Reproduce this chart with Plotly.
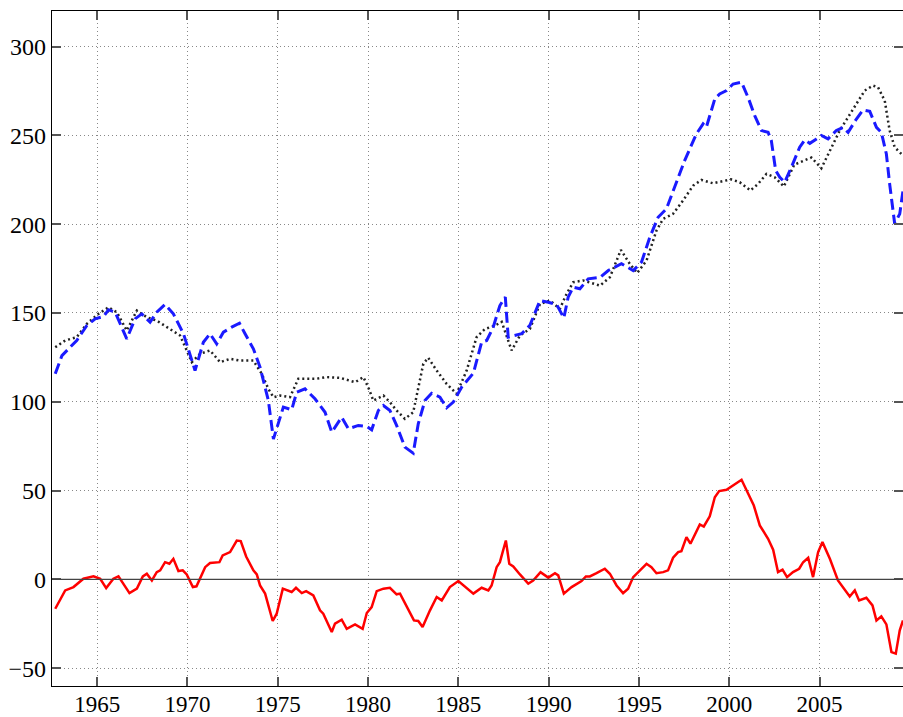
import plotly.graph_objects as go

# blue dashed series
blue_x = [1962.68, 1963.05, 1963.5, 1963.87, 1964.43, 1964.89, 1965.35, 1965.63, 1966.0, 1966.64,
          1967.1, 1967.47, 1967.93, 1968.3, 1968.76, 1969.22, 1969.78, 1970.15, 1970.42, 1970.88,
          1971.25, 1971.62, 1971.99, 1972.45, 1972.88, 1973.19, 1973.65, 1974.02, 1974.48, 1974.76,
          1975.03, 1975.31, 1975.77, 1976.05, 1976.51, 1977.06, 1977.62, 1977.99, 1978.54, 1978.91,
          1979.46, 1979.93, 1980.2, 1980.57, 1980.85, 1981.21, 1981.58, 1982.04, 1982.5, 1982.78,
          1983.15, 1983.52, 1983.98, 1984.35, 1984.72, 1985.18, 1985.83, 1986.29, 1986.57, 1986.93,
          1987.3, 1987.6, 1987.76, 1988.13, 1988.5, 1988.96, 1989.52, 1989.98, 1990.44, 1990.84,
          1991.08, 1991.36, 1991.73, 1992.19, 1992.84, 1993.3, 1994.03, 1994.68, 1995.14, 1995.6,
          1996.06, 1996.52, 1996.98, 1997.53, 1998.18, 1998.55, 1998.73, 1999.2, 1999.47, 1999.85,
          2000.21, 2000.68, 2001.04, 2001.41, 2001.78, 2002.15, 2002.33, 2002.57, 2002.8, 2003.07,
          2003.44, 2003.9, 2004.18, 2004.46, 2004.83, 2005.1, 2005.47, 2005.93, 2006.3, 2006.58,
          2007.04, 2007.41, 2007.78, 2008.15, 2008.42, 2008.7, 2008.88, 2009.16, 2009.44, 2009.62]
blue_y = [115.8, 126, 130.7, 134.5, 143, 146.7, 148, 151.8, 150.4, 135.4,
          146.7, 149.5, 144.8, 150.4, 154.8, 149.5, 138.3, 126, 117.6, 133.5,
          138.3, 132.6, 139.2, 142, 144.2, 138.3, 129.8, 119.5, 100.7, 79,
          87.6, 97, 95.5, 105.4, 107.3, 101.7, 94.1, 82.9, 91.3, 84.8,
          86.7, 86.1, 84.2, 95.1, 97.9, 95.1, 86.7, 74.5, 71.1, 87.6,
          100.7, 104.8, 102.6, 96.6, 99.8, 108.2, 116.1, 133.5, 134.5, 142,
          154.2, 159, 136.4, 137.3, 138.3, 143, 157, 156, 154.8, 147.2,
          158.9, 164.5, 163.6, 169.2, 170, 173.9, 177.7, 173.9, 178.6, 192.6,
          203.9, 208.6, 220.8, 235.8, 250.8, 256.4, 254.5, 270.5, 273.3, 275.2,
          278.9, 279.9, 271.4, 261.1, 252.7, 251.7, 247, 230.2, 226.4, 223.6,
          232.1, 243.3, 247.4, 245.5, 248, 249.9, 248, 252.7, 254.5, 251.7,
          259.2, 264.3, 263.5, 254.5, 251.7, 239.5, 222.7, 200.2, 205.8, 218.9]

# black dotted series
black_x = [1962.68, 1963.23, 1963.87, 1964.43, 1965.07, 1965.63, 1966.09, 1966.64, 1967.2, 1967.75,
           1968.3, 1969.04, 1969.59, 1969.96, 1970.24, 1970.7, 1971.25, 1971.81, 1972.36, 1972.91,
           1973.65, 1974.11, 1974.48, 1974.76, 1975.13, 1975.68, 1976.14, 1976.6, 1977.16, 1977.71,
           1978.45, 1979.28, 1979.74, 1980.01, 1980.29, 1980.85, 1981.21, 1981.58, 1982.04, 1982.5,
           1982.78, 1983.06, 1983.33, 1983.8, 1984.35, 1984.9, 1985.46, 1986.01, 1986.47, 1987.03,
           1987.4, 1987.95, 1988.41, 1988.96, 1989.52, 1990.07, 1990.62, 1990.99, 1991.36, 1991.91,
           1992.84, 1993.39, 1994.0, 1994.49, 1994.9, 1995.42, 1995.97, 1996.34, 1996.89, 1997.44,
           1998.0, 1998.46, 1999.1, 2000.1, 2000.58, 2001.17, 2001.6, 2002.06, 2002.52, 2003.02,
           2003.6, 2004.09, 2004.55, 2005.1, 2005.57, 2006.12, 2006.58, 2007.04, 2007.5, 2007.96,
           2008.24, 2008.61, 2008.88, 2009.16, 2009.53]
black_y = [130.7, 134.5, 136.4, 143.9, 149.5, 153.2, 150.4, 140.1, 151.4, 147.6,
           145.7, 141, 137.3, 128.9, 122.3, 127, 128.9, 122.3, 124.2, 123.2,
           123.2, 115.8, 107.3, 102.6, 103.5, 102.6, 113, 113, 113, 113.9,
           113.5, 111, 113.9, 108.2, 100.7, 103.5, 99.8, 95.1, 90.4, 94.1,
           107.3, 121.4, 124.8, 117.6, 110.1, 104.5, 117.6, 136.4, 141, 142.9,
           145, 128.9, 137.3, 141, 155.1, 157, 152.3, 160.7, 167.3, 168.3,
           165.4, 170.1, 185.5, 177.7, 172.5, 179.5, 196.4, 203, 205.8, 213.3,
           221.7, 224.9, 223, 225.2, 223.6, 219, 222.7, 228.3, 226.4, 221.2,
           233.5, 235.8, 237.5, 231.5, 241.4, 252.7, 260.2, 267.7, 275.2, 278,
           277, 269.5, 252.7, 243.3, 239.5]

# red solid series
red_x = [1962.68, 1963.23, 1963.69, 1964.24, 1964.8, 1965.17, 1965.5, 1965.9, 1966.18, 1966.79,
         1967.2, 1967.53, 1967.75, 1968.03, 1968.3, 1968.49, 1968.76, 1969.0, 1969.22, 1969.5,
         1969.74, 1969.96, 1970.3, 1970.5, 1970.98, 1971.25, 1971.77, 1971.95, 1972.36, 1972.73,
         1972.95, 1973.25, 1973.65, 1973.84, 1974.02, 1974.3, 1974.72, 1974.94, 1975.28, 1975.77,
         1976.01, 1976.33, 1976.57, 1976.97, 1977.34, 1977.52, 1977.99, 1978.17, 1978.54, 1978.82,
         1979.28, 1979.7, 1979.93, 1980.2, 1980.48, 1980.85, 1981.21, 1981.58, 1981.77, 1982.1,
         1982.54, 1982.78, 1983.02, 1983.43, 1983.8, 1984.08, 1984.53, 1985.0, 1985.37, 1985.83,
         1986.29, 1986.66, 1986.84, 1987.12, 1987.3, 1987.63, 1987.82, 1988.04, 1988.41, 1988.87,
         1989.14, 1989.55, 1989.98, 1990.35, 1990.53, 1990.84, 1991.27, 1991.82, 1992.06, 1992.28,
         1992.65, 1993.11, 1993.39, 1993.76, 1994.12, 1994.4, 1994.68, 1995.09, 1995.42, 1995.69,
         1995.97, 1996.34, 1996.61, 1996.89, 1997.17, 1997.35, 1997.63, 1997.85, 1998.37, 1998.59,
         1998.92, 1999.2, 1999.44, 1999.85, 2000.18, 2000.68, 2001.05, 2001.36, 2001.69, 2002.15,
         2002.43, 2002.7, 2002.95, 2003.2, 2003.53, 2003.87, 2004.09, 2004.37, 2004.64, 2004.92,
         2005.16, 2005.57, 2006.02, 2006.67, 2006.95, 2007.19, 2007.59, 2007.93, 2008.15, 2008.42,
         2008.7, 2008.98, 2009.22, 2009.44, 2009.62]
red_y = [-16.5, -6.2, -4.3, 0.4, 1.7, 0.4, -4.9, 0.4, 1.7, -7.7,
         -5.2, 1.7, 3.2, -0.6, 4.1, 5.1, 9.7, 8.8, 11.6, 4.7,
         5.1, 2.8, -4.3, -3.9, 6.9, 9.2, 9.7, 13.5, 15.4, 21.9,
         21.6, 12.9, 5.1, 2.8, -3.4, -8.0, -23.4, -19.3, -5.2, -7.1,
         -4.7, -7.7, -6.6, -9.0, -17.4, -19.3, -29.6, -24.9, -22.7, -27.8,
         -25.3, -27.8, -18.9, -15.6, -6.6, -5.2, -4.7, -8.4, -8.0, -14.6,
         -23.1, -23.4, -26.8, -17.4, -9.9, -11.8, -4.3, -0.9, -4.3, -8.0,
         -4.7, -6.2, -3.4, 6.9, 9.7, 21.9, 8.8, 7.3, 2.8, -2.4,
         -0.6, 4.1, 1.0, 3.5, 2.3, -8.0, -4.3, -0.9, 1.7, 1.7,
         3.5, 6.0, 3.2, -3.4, -7.7, -5.2, 1.3, 5.5, 8.8, 6.9,
         3.5, 4.1, 5.1, 12.2, 15.4, 15.9, 23.8, 20.1, 31.0, 29.8,
         35.5, 46.3, 49.7, 50.5, 52.9, 56.1, 48.2, 41.6, 30.4, 22.9,
         16.7, 4.1, 5.5, 1.3, 4.1, 6.0, 9.7, 12.2, 1.3, 15.4,
         21.0, 11.6, -0.6, -9.6, -6.2, -11.8, -10.3, -14.6, -23.1, -20.8,
         -25.3, -40.9, -41.8, -28.7, -23.1]

x_ticks = [1965, 1970, 1975, 1980, 1985, 1990, 1995, 2000, 2005]
y_ticks = [-50, 0, 50, 100, 150, 200, 250, 300]

fig = go.Figure()
fig.add_trace(go.Scatter(x=black_x, y=black_y, mode="lines",
                         line=dict(color="#222222", width=2.5, dash="2px,3px")))
fig.add_trace(go.Scatter(x=blue_x, y=blue_y, mode="lines",
                         line=dict(color="#1a1aff", width=3, dash="11px,5px")))
fig.add_trace(go.Scatter(x=red_x, y=red_y, mode="lines",
                         line=dict(color="#ff0000", width=2.5)))

fig.add_hline(y=0, line=dict(color="#444444", width=1.2))

axis_common = dict(
    showline=True, linecolor="black", linewidth=1.2, mirror="ticks",
    ticks="inside", ticklen=9, tickwidth=1.5, tickcolor="#555555",
    showgrid=True, gridcolor="#888888", griddash="1px,3px", gridwidth=1,
    zeroline=False, automargin=False,
)

fig.update_xaxes(range=[1962.5, 2009.62], tickvals=x_ticks, ticklabelstandoff=-3,
                 tickfont=dict(family="Liberation Serif", size=23, color="black"), **axis_common)
fig.update_yaxes(range=[-60, 320], tickvals=y_ticks,
                 tickfont=dict(family="Liberation Serif", size=24, color="black"), **axis_common)

fig.update_layout(
    width=903, height=717,
    margin=dict(l=52, r=0, t=11, b=31),
    plot_bgcolor="white", paper_bgcolor="white",
    showlegend=False,
)

# drop the default page margin so the figure sits at the window's corner
fig.write_html("out.html", config={"displayModeBar": False},
               post_script="document.body.style.margin='0';document.body.style.overflow='hidden';")
